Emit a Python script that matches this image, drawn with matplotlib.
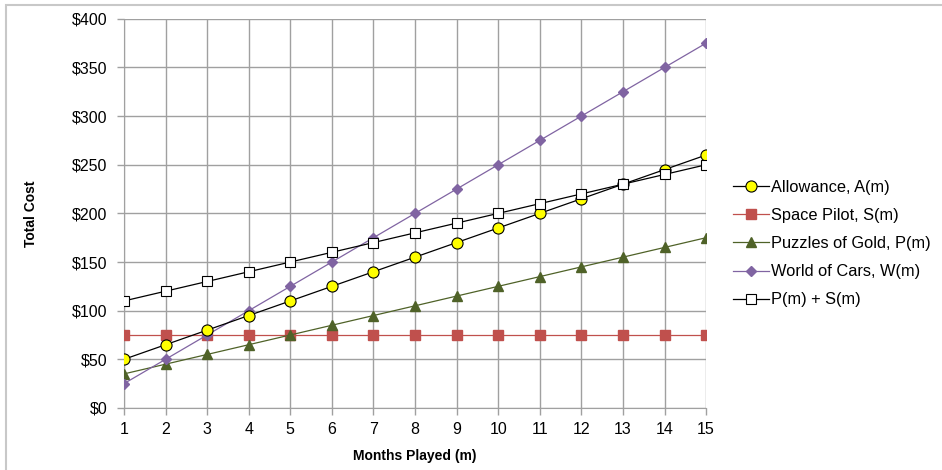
import matplotlib.pyplot as plt
from matplotlib.patches import Rectangle

plt.rcParams['font.family'] = ['Liberation Sans', 'DejaVu Sans']

# data
months = [1, 2, 3, 4, 5, 6, 7, 8, 9, 10, 11, 12, 13, 14, 15]
allowance = [50, 65, 80, 95, 110, 125, 140, 155, 170, 185, 200, 215, 230, 245, 260]
space_pilot = [75] * 15
puzzles = [35, 45, 55, 65, 75, 85, 95, 105, 115, 125, 135, 145, 155, 165, 175]
world_cars = [25, 50, 75, 100, 125, 150, 175, 200, 225, 250, 275, 300, 325, 350, 375]
p_plus_s = [110, 120, 130, 140, 150, 160, 170, 180, 190, 200, 210, 220, 230, 240, 250]
y_ticks = [0, 50, 100, 150, 200, 250, 300, 350, 400]

fig = plt.figure(figsize=(9.42, 4.70), dpi=100)
ax = fig.add_axes([0.1316, 0.132, 0.618, 0.828])

# outer chart border
fig.patches.append(Rectangle((6 / 942, -0.05), 1.1, 1 - 5 / 470 + 0.05,
                             transform=fig.transFigure, fill=False,
                             edgecolor='#c8c8c8', lw=1.5))

ax.plot(months, allowance, color='black', lw=0.9, marker='o', ms=8,
        mfc='#ffff00', mec='black', mew=0.8, label='Allowance, A(m)', zorder=5)
ax.plot(months, space_pilot, color='#c0504d', lw=0.9, marker='s', ms=6.5,
        mfc='#c0504d', mec='#c0504d', label='Space Pilot, S(m)', zorder=3)
ax.plot(months, puzzles, color='#4f6228', lw=0.9, marker='^', ms=7.5,
        mfc='#4f6228', mec='#4f6228', label='Puzzles of Gold, P(m)', zorder=3)
ax.plot(months, world_cars, color='#8064a2', lw=0.9, marker='D', ms=5.5,
        mfc='#8064a2', mec='#8064a2', label='World of Cars, W(m)', zorder=4)
ax.plot(months, p_plus_s, color='black', lw=0.9, marker='s', ms=7.5,
        mfc='white', mec='black', mew=0.8, label='P(m) + S(m)', zorder=6)

ax.set_xlim(1, 15)
ax.set_ylim(0, 400)
ax.set_xticks(months)
ax.set_yticks(y_ticks)
ax.set_yticklabels(['$' + str(v) for v in y_ticks])
ax.grid(True, color='#a0a0a0', lw=1)
ax.set_axisbelow(True)
for s in ['top', 'right']:
    ax.spines[s].set_visible(False)
for s in ['left', 'bottom']:
    ax.spines[s].set_color('#a0a0a0')
ax.tick_params(axis='both', colors='#a0a0a0', labelcolor='black',
               labelsize=11.5, length=5, width=1)
ax.tick_params(axis='x', pad=5)
ax.tick_params(axis='y', pad=7)

ax.set_xlabel('Months Played (m)', fontsize=10, fontweight='bold', labelpad=9)
ax.set_ylabel('Total Cost', fontsize=10, fontweight='bold', labelpad=24)

ax.legend(loc='center left', bbox_to_anchor=(1.02, 0.422), frameon=False,
          fontsize=11.8, handlelength=2.2, labelspacing=0.8,
          handletextpad=0.15)

fig.savefig('out.png', dpi=100)
